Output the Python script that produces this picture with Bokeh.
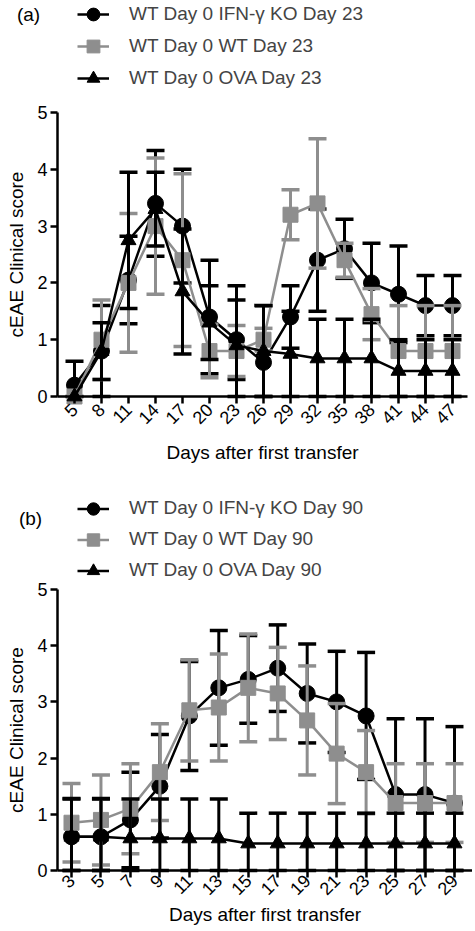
import math
from bokeh.plotting import figure
from bokeh.models import Range1d, FixedTicker, Legend, LegendItem, Label
from bokeh.layouts import column
from bokeh.embed import file_html
from bokeh.resources import INLINE

# ---------------- data: panel (a) ----------------
days_a = [5, 8, 11, 14, 17, 20, 23, 26, 29, 32, 35, 38, 41, 44, 47]
ko_a_mean = [0.2, 0.8, 2.05, 3.4, 3.0, 1.4, 1.0, 0.6, 1.4, 2.4, 2.6, 2.0, 1.8, 1.6, 1.6]
ko_a_err = [0.42, 0.8, 0.77, 0.93, 1.0, 1.0, 0.7, 1.0, 0.55, 0.9, 0.52, 0.7, 0.85, 0.53, 0.53]
wt_a_mean = [0.0, 1.0, 2.0, 3.0, 2.4, 0.8, 0.8, 1.0, 3.2, 3.4, 2.4, 1.45, 0.8, 0.8, 0.8]
wt_a_err = [0.0, 0.7, 1.22, 1.2, 1.52, 0.47, 0.45, 0.2, 0.44, 1.14, 0.3, 0.45, 0.8, 0.8, 0.8]
ova_a_mean = [0.0, 0.8, 2.75, 3.3, 1.85, 1.3, 0.9, 0.8, 0.75, 0.67, 0.67, 0.67, 0.45, 0.45, 0.45]
ova_a_err = [0.0, 0.5, 1.2, 0.65, 1.1, 0.65, 1.05, 0.8, 0.75, 0.69, 0.69, 0.69, 0.55, 0.55, 0.55]
names_a = ["WT Day 0 IFN-\u03b3 KO Day 23", "WT Day 0 WT Day 23", "WT Day 0 OVA Day 23"]

# ---------------- data: panel (b) ----------------
days_b = [3, 5, 7, 9, 11, 13, 15, 17, 19, 21, 23, 25, 27, 29]
ko_b_mean = [0.6, 0.6, 0.9, 1.5, 2.75, 3.25, 3.4, 3.6, 3.15, 3.0, 2.75, 1.35, 1.35, 1.2]
ko_b_err = [0.67, 0.67, 0.85, 0.92, 0.97, 1.02, 0.78, 0.77, 0.88, 0.9, 1.13, 1.35, 1.35, 1.36]
wt_b_mean = [0.85, 0.9, 1.1, 1.75, 2.85, 2.9, 3.25, 3.15, 2.67, 2.08, 1.75, 1.2, 1.2, 1.2]
wt_b_err = [0.7, 0.8, 0.8, 0.86, 0.9, 0.95, 0.96, 0.82, 0.97, 0.89, 0.74, 0.7, 0.7, 0.7]
ova_b_mean = [0.6, 0.6, 0.57, 0.57, 0.57, 0.57, 0.48, 0.48, 0.48, 0.48, 0.48, 0.48, 0.48, 0.48]
ova_b_err = [0.68, 0.68, 0.7, 0.7, 0.7, 0.7, 0.54, 0.54, 0.54, 0.54, 0.54, 0.54, 0.54, 0.54]
names_b = ["WT Day 0 IFN-\u03b3 KO Day 90", "WT Day 0 WT Day 90", "WT Day 0 OVA Day 90"]

y_ticks = [0, 1, 2, 3, 4, 5]
x_label = "Days after first transfer"
y_label = "cEAE Clinical score"

FONT = "Liberation Sans"
BLACK = "#000000"
GRAY = "#8e8e8e"


def add_series(p, days, mean, err, color, marker, size):
    xs = [d for d, e in zip(days, err) if e > 0]
    lo = [max(m - e, 0.0) for m, e in zip(mean, err) if e > 0]
    hi = [m + e for m, e in zip(mean, err) if e > 0]
    p.segment(x0=xs, y0=lo, x1=xs, y1=hi, line_color=color, line_width=3)
    p.scatter(x=xs + xs, y=hi + lo, marker="dash", size=18, line_color=color, line_width=3.5)
    ln = p.line(days, mean, line_color=color, line_width=2.5)
    mk = p.scatter(days, mean, marker=marker, size=size, fill_color=color, line_color=color)
    return [ln, mk]


def make_panel(days, ko_m, ko_e, wt_m, wt_e, ova_m, ova_e, names, tag, xr, yr, axis_x, axis_x_end,
               height, legend_y, glyph_h, tag_xy, xlab_standoff, xlabel_std):
    p = figure(width=472, height=height, x_range=Range1d(*xr), y_range=Range1d(*yr),
               output_backend="svg", toolbar_location=None, min_border=0)
    p.xgrid.visible = False
    p.ygrid.visible = False
    p.outline_line_color = None

    r_ko = add_series(p, days, ko_m, ko_e, BLACK, "circle", 16)
    r_wt = add_series(p, days, wt_m, wt_e, GRAY, "square", 15)
    r_ova = add_series(p, days, ova_m, ova_e, BLACK, "triangle", 15)

    p.xaxis.fixed_location = 0
    p.yaxis.fixed_location = axis_x
    p.xaxis.bounds = (axis_x, axis_x_end)
    p.yaxis.bounds = (0, 5)
    p.xaxis.ticker = FixedTicker(ticks=days)
    p.yaxis.ticker = FixedTicker(ticks=y_ticks)
    p.xaxis.major_label_orientation = math.pi / 4
    p.xaxis.axis_label = x_label
    p.yaxis.axis_label = y_label
    for ax in p.axis:
        ax.axis_line_width = 2.5
        ax.axis_line_color = BLACK
        ax.major_tick_line_width = 2.5
        ax.major_tick_line_color = BLACK
        ax.major_tick_out = 7
        ax.major_tick_in = 0
        ax.minor_tick_out = 0
        ax.minor_tick_in = 0
        ax.major_label_text_font = FONT
        ax.major_label_text_font_size = "18px"
        ax.major_label_text_color = BLACK
        ax.axis_label_text_font = FONT
        ax.axis_label_text_font_size = "19px"
        ax.axis_label_text_font_style = "normal"
        ax.axis_label_text_color = BLACK
    p.yaxis.major_label_standoff = 3
    p.yaxis.axis_label_standoff = 7
    p.xaxis.major_label_standoff = xlabel_std
    p.xaxis.axis_label_standoff = xlab_standoff

    legend = Legend(items=[LegendItem(label=names[0], renderers=r_ko),
                           LegendItem(label=names[1], renderers=r_wt),
                           LegendItem(label=names[2], renderers=r_ova)],
                    location=(77, legend_y), orientation="vertical",
                    glyph_width=32, glyph_height=glyph_h, label_height=glyph_h,
                    spacing=0, padding=0, margin=0, label_standoff=20,
                    label_text_font=FONT, label_text_font_size="19px",
                    border_line_alpha=0, background_fill_alpha=0)
    p.add_layout(legend)
    p.add_layout(Label(x=tag_xy[0], y=tag_xy[1], x_units="screen", y_units="screen", text=tag,
                       text_align="center", text_baseline="middle",
                       text_font=FONT, text_font_size="19px", text_color=BLACK))
    return p


pa = make_panel(days_a, ko_a_mean, ko_a_err, wt_a_mean, wt_a_err, ova_a_mean, ova_a_err,
                names_a, "(a)", (-3.222, 49.222), (-1.303, 6.972), 3.111, 48.667,
                470, 376, 32, (28, 456), 9, 3)
pb = make_panel(days_b, ko_b_mean, ko_b_err, wt_b_mean, wt_b_err, ova_b_mean, ova_b_err,
                names_b, "(b)", (-1.820, 30.223), (-1.0676, 7.117), 2.05, 30.2,
                460, 344.5, 31, (30, 412), 0, 0)

layout = column(pa, pb, spacing=0)
open("out.html", "w").write(file_html(layout, INLINE))
